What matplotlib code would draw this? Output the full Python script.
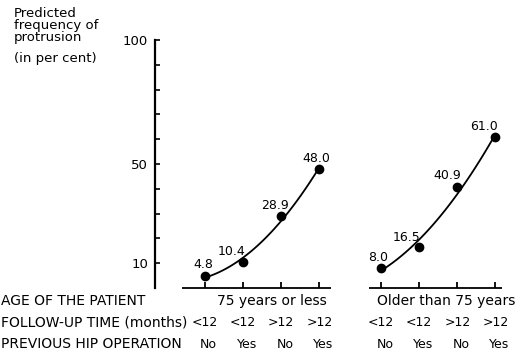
import numpy as np
import matplotlib
matplotlib.use("Agg")
import matplotlib.pyplot as plt
import matplotlib.transforms as mtransforms
from matplotlib.ticker import FixedLocator

# predicted frequency of protrusion (per cent)
young_vals = [4.8, 10.4, 28.9, 48.0]
old_vals = [8.0, 16.5, 40.9, 61.0]
age_groups = ["75 years or less", "Older than 75 years"]
followup = ["<12", "<12", ">12", ">12"]
previous_op = ["No", "Yes", "No", "Yes"]
row_titles = ["AGE OF THE PATIENT", "FOLLOW-UP TIME (months)", "PREVIOUS HIP OPERATION"]

plt.rcParams['font.family'] = ['DejaVu Sans']

W, H = 516, 352
fig = plt.figure(figsize=(W / 100, H / 100), dpi=100)
# axes placed so the y spine sits at x=155px, y=0 at 288px and y=100 at 40px
ax = fig.add_axes([155 / W, (H - 288) / H, (W - 155) / W, 248 / H])

x_young = np.arange(4)
x_old = np.arange(4) + 4.62
ax.set_xlim(-1.31, 8.16)
ax.set_ylim(0, 100)

# label offsets in pixels (dx, dy) from each point
young_offs = [(-2, 12), (-12, 11), (-6, 11), (-3, 10)]
old_offs = [(-3, 11), (-13, 10), (-10, 11), (-11, 10)]

# fitted curves + points
for xs, vals, offs in [(x_young, young_vals, young_offs), (x_old, old_vals, old_offs)]:
    coef = np.polyfit(xs, vals, 2)
    xf = np.linspace(xs[0], xs[-1], 100)
    ax.plot(xf, np.polyval(coef, xf), color="black", lw=1.3)
    ax.plot(xs, vals, "o", color="black", ms=6)
    for x, v, (dx, dy) in zip(xs, vals, offs):
        ax.annotate(f"{v:.1f}", (x, v), xytext=(dx * 0.72, dy * 0.72), textcoords="offset points",
                    ha="center", va="center", fontsize=9)

# baselines with ticks instead of a bottom spine
y0 = ax.get_ylim()[0]
ax.hlines(y0, -0.6, 3.3, color="black", lw=1.3, clip_on=False)
ax.hlines(y0, 4.3, 7.8, color="black", lw=1.3, clip_on=False)
ax.vlines(np.concatenate([x_young, x_old]), y0, y0 + 2.6, color="black", lw=1.3, clip_on=False)

for s in ["top", "right", "bottom"]:
    ax.spines[s].set_visible(False)
ax.spines["left"].set_linewidth(1.6)
ax.set_xticks([])
ax.yaxis.set_major_locator(FixedLocator([10, 50, 100]))
ax.yaxis.set_minor_locator(FixedLocator([20, 30, 40, 60, 70, 80, 90]))
ax.tick_params(axis="y", which="both", direction="in", length=3.5, width=1.2, labelsize=9.5, pad=5)

# y label in the top-left corner
fig.text(14 / W, 1 - 7 / H, "Predicted\nfrequency of\nprotrusion", ha="left", va="top",
         fontsize=9.5, linespacing=0.9)
fig.text(14 / W, 1 - 52 / H, "(in per cent)", ha="left", va="top", fontsize=9.5)

# category rows underneath
trans = mtransforms.blended_transform_factory(ax.transData, fig.transFigure)
row_y = [1 - 301 / H, 1 - 323 / H, 1 - 344 / H]
for t, ry in zip(row_titles, row_y):
    fig.text(1 / W, ry, t, ha="left", va="center", fontsize=10)
ax.text(x_young.mean() + 0.25, row_y[0], age_groups[0], transform=trans, ha="center", va="center", fontsize=10)
ax.text(x_old.mean() + 0.2, row_y[0], age_groups[1], transform=trans, ha="center", va="center", fontsize=10)
for xs in (x_young, x_old):
    for x, f, p in zip(xs, followup, previous_op):
        ax.text(x, row_y[1], f, transform=trans, ha="center", va="center", fontsize=9)
        ax.text(x + 0.1, row_y[2], p, transform=trans, ha="center", va="center", fontsize=9)

fig.savefig("out.png", dpi=100)
